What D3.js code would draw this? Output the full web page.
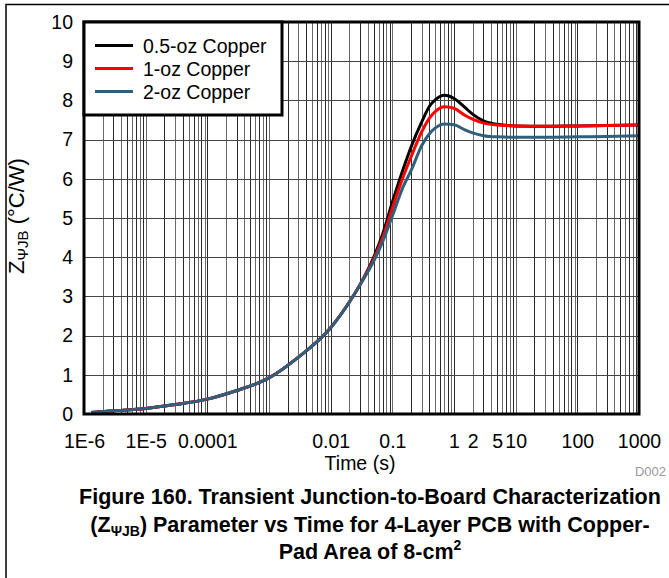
<!DOCTYPE html>
<html>
<head>
<meta charset="utf-8">
<script src="https://cdn.jsdelivr.net/npm/d3@7"></script>
<style>
  body { margin: 0; background: #fff; }
  svg { display: block; font-family: "Liberation Sans", Arial, sans-serif; }
</style>
</head>
<body>
<script>
// time points (s) and Z values (°C/W)
const times = [1.3e-6, 3e-6, 1e-5, 3e-5, 1e-4, 3e-4, 1e-3, 3e-3, 0.01, 0.02, 0.03, 0.05, 0.07,
  0.1, 0.15, 0.2, 0.3, 0.4, 0.5, 0.7, 1, 1.5, 2, 3, 5, 10, 30, 100, 300, 1000]
const oz05 = [0.04, 0.08, 0.14, 0.24, 0.38, 0.6, 0.92, 1.45, 2.2, 2.85, 3.3, 4.0, 4.6,
  5.4, 6.25, 6.8, 7.45, 7.85, 8.02, 8.13, 8.05, 7.82, 7.65, 7.48, 7.39, 7.35, 7.34, 7.35, 7.36, 7.37]
const oz1 = [0.04, 0.08, 0.14, 0.24, 0.38, 0.6, 0.92, 1.45, 2.2, 2.85, 3.3, 3.95, 4.5,
  5.25, 6.05, 6.55, 7.2, 7.55, 7.72, 7.84, 7.8, 7.62, 7.52, 7.42, 7.37, 7.35, 7.34, 7.35, 7.36, 7.37]
const oz2 = [0.04, 0.08, 0.14, 0.24, 0.38, 0.6, 0.92, 1.45, 2.2, 2.85, 3.3, 3.9, 4.4,
  5.05, 5.8, 6.2, 6.85, 7.15, 7.3, 7.4, 7.38, 7.25, 7.17, 7.1, 7.07, 7.06, 7.06, 7.07, 7.08, 7.1]

const seriesNames = ['0.5-oz Copper', '1-oz Copper', '2-oz Copper']
const seriesColors = ['#000000', '#ff0000', '#2f5f7a']
const xTickValues = [1e-6, 1e-5, 1e-4, 0.01, 0.1, 1, 2, 5, 10, 100, 1000]
const xTickLabels = ['1E-6', '1E-5', '0.0001', '0.01', '0.1', '1', '2', '5', '10', '100', '1000']
const yTickValues = [0, 1, 2, 3, 4, 5, 6, 7, 8, 9, 10]
const captionLines = [
  'Figure 160. Transient Junction-to-Board Characterization',
  ') Parameter vs Time for 4-Layer PCB with Copper-',
  'Pad Area of 8-cm'
]

const W = 669, H = 578
const plot = { left: 84, top: 22, right: 639, bottom: 414 }
const FONT = 19.5

const svg = d3.select('body').append('svg')
  .attr('width', W)
  .attr('height', H)

// outer frame (only top and left visible)
svg.append('path')
  .attr('d', `M6,${H} V4.5 H${W}`)
  .attr('fill', 'none')
  .attr('stroke', '#000')
  .attr('stroke-width', 1.5)

const x = d3.scaleLog().domain([1e-6, 1000]).range([plot.left, plot.right])
const y = d3.scaleLinear().domain([0, 10]).range([plot.bottom, plot.top])

// grid
const minorX = []
for (let e = -6; e < 3; e++) for (let k = 1; k <= 9; k++) minorX.push(k * Math.pow(10, e))
minorX.push(1000)

const grid = svg.append('g')
grid.selectAll('line.vx')
  .data(minorX)
  .join('line')
  .attr('class', 'vx')
  .attr('x1', d => Math.round(x(d)) + 0.5)
  .attr('x2', d => Math.round(x(d)) + 0.5)
  .attr('y1', plot.top)
  .attr('y2', plot.bottom)
  .attr('stroke', (d, i) => i % 2 ? '#6a6a6a' : '#2a2a2a')
  .attr('stroke-width', 1)

grid.selectAll('line.hy')
  .data(yTickValues)
  .join('line')
  .attr('class', 'hy')
  .attr('x1', plot.left)
  .attr('x2', plot.right)
  .attr('y1', d => Math.round(y(d)) + 0.5)
  .attr('y2', d => Math.round(y(d)) + 0.5)
  .attr('stroke', '#444')
  .attr('stroke-width', 1)

// axes labels
const yAxis = d3.axisLeft(y).tickValues(yTickValues).tickSize(0).tickPadding(11)
svg.append('g')
  .attr('transform', `translate(${plot.left},0)`)
  .call(yAxis)
  .call(g => g.select('.domain').remove())
  .selectAll('text')
  .attr('font-size', FONT)
  .attr('font-family', '"Liberation Sans", Arial, sans-serif')
  .attr('fill', '#000')

const xAxis = d3.axisBottom(x).tickValues(xTickValues).tickSize(0).tickPadding(20)
  .tickFormat((d, i) => xTickLabels[i])
svg.append('g')
  .attr('transform', `translate(0,${plot.bottom})`)
  .call(xAxis)
  .call(g => g.select('.domain').remove())
  .selectAll('text')
  .attr('font-size', FONT)
  .attr('font-family', '"Liberation Sans", Arial, sans-serif')
  .attr('fill', '#000')

// curves
const line = d3.line()
  .x(d => x(d[0]))
  .y(d => y(d[1]))
  .curve(d3.curveMonotoneX)

const allSeries = [oz05, oz1, oz2]
allSeries.forEach((vals, i) => {
  svg.append('path')
    .datum(times.map((t, j) => [t, vals[j]]))
    .attr('d', line)
    .attr('fill', 'none')
    .attr('stroke', seriesColors[i])
    .attr('stroke-width', 3)
    .attr('stroke-linejoin', 'round')
})

// plot border
svg.append('rect')
  .attr('x', plot.left)
  .attr('y', plot.top)
  .attr('width', plot.right - plot.left)
  .attr('height', plot.bottom - plot.top)
  .attr('fill', 'none')
  .attr('stroke', '#000')
  .attr('stroke-width', 3)

// legend
const legend = svg.append('g')
legend.append('rect')
  .attr('x', plot.left)
  .attr('y', plot.top)
  .attr('width', 198)
  .attr('height', 93)
  .attr('fill', '#fff')
  .attr('stroke', '#000')
  .attr('stroke-width', 3)

seriesNames.forEach((name, i) => {
  const ly = 45.5 + i * 23
  legend.append('line')
    .attr('x1', 95).attr('x2', 133)
    .attr('y1', ly).attr('y2', ly)
    .attr('stroke', seriesColors[i])
    .attr('stroke-width', 3)
  legend.append('text')
    .attr('x', 143)
    .attr('y', ly + 7)
    .attr('font-size', FONT)
    .text(name)
})

// axis titles
svg.append('text')
  .attr('x', 360)
  .attr('y', 470)
  .attr('text-anchor', 'middle')
  .attr('font-size', FONT)
  .text('Time (s)')

const yTitle = svg.append('text')
  .attr('transform', 'translate(24,216) rotate(-90)')
  .attr('text-anchor', 'middle')
  .attr('font-size', 22)
yTitle.append('tspan').text('Z')
yTitle.append('tspan').attr('font-size', 15).attr('dy', 4).text('ΨJB')
yTitle.append('tspan').attr('dy', -4).text(' (°C/W)')

svg.append('text')
  .attr('x', 666)
  .attr('y', 476)
  .attr('text-anchor', 'end')
  .attr('font-size', 13)
  .attr('fill', '#999')
  .text('D002')

// caption
const cap = svg.append('g')
  .attr('font-weight', 'bold')
  .attr('font-size', 21.5)
  .attr('text-anchor', 'middle')
cap.append('text').attr('x', 370).attr('y', 504).text(captionLines[0])
const l2 = cap.append('text').attr('x', 370).attr('y', 532)
l2.append('tspan').text('(Z')
l2.append('tspan').attr('font-size', 14).attr('dy', 4).text('ΨJB')
l2.append('tspan').attr('dy', -4).text(captionLines[1])
const l3 = cap.append('text').attr('x', 370).attr('y', 559)
l3.append('tspan').text(captionLines[2])
l3.append('tspan').attr('font-size', 14).attr('dy', -9).text('2')
</script>
</body>
</html>
